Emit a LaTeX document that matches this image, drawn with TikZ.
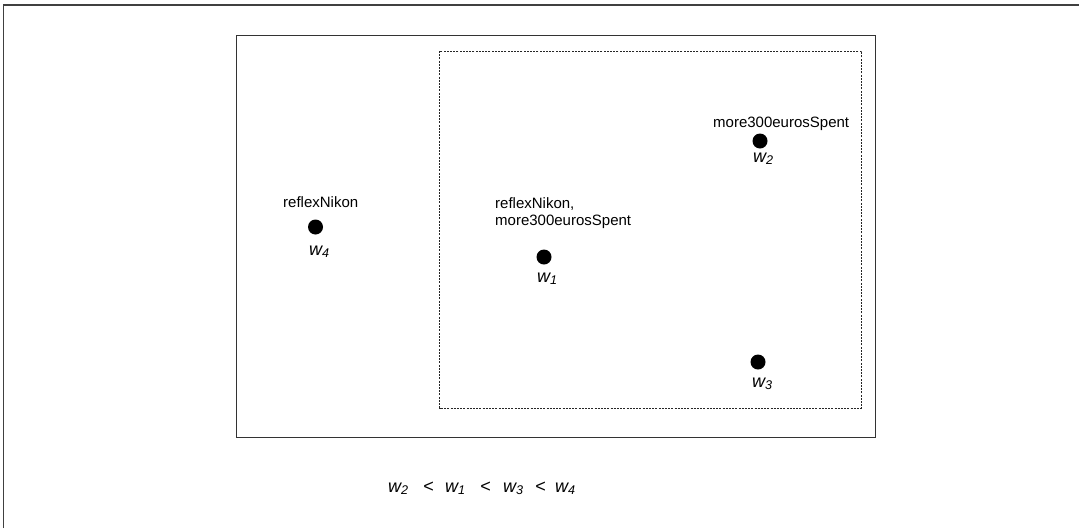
\documentclass[tikz,border=0pt]{standalone}
\usepackage{fontspec}
\setmainfont{Liberation Sans}
\newcommand{\slot}[2]{\makebox[#1pt][l]{#2}}
\begin{document}
\begin{tikzpicture}[x=1pt,y=-1pt,
  world/.style={circle,fill=black,inner sep=0pt,minimum size=15pt},
  prop/.style={font=\fontsize{15}{17}\selectfont,inner sep=0pt,align=left,anchor=base west},
  wname/.style={font=\fontsize{18}{18}\selectfont\itshape,inner sep=0pt,anchor=base west},
  frame/.style={draw=black!80,line width=1.4pt},
  cluster/.style={draw=black!85,line width=0.9pt,dash pattern=on 2pt off 1.2pt}]
\useasboundingbox (0,0) rectangle (1079,528);
% page edges
\draw[draw=black!75,line width=1.5pt] (3.5,528) -- (3.5,5) -- (1079,5);
% model frame and the cluster of worlds
\draw[frame] (236.5,35.5) rectangle (875.5,437.5);
\draw[cluster] (439.5,51) rectangle (861.5,408);
% worlds
\node[world] (w4) at (315.5,227) {};
\node[world] (w1) at (544,257) {};
\node[world] (w2) at (760,141) {};
\node[world] (w3) at (758,362) {};
% valuations
\node[prop] (p4) at (283,207) {reflexNikon};
\node[prop] (p1) at (495,225) {reflexNikon,\\more300eurosSpent};
\node[prop] (p2) at (713,127) {more300eurosSpent};
% world names
\node[wname] (n4) at (309,255) {w\textsubscript{4}};
\node[wname] (n1) at (537,282) {w\textsubscript{1}};
\node[wname] (n2) at (753,162) {w\textsubscript{2}};
\node[wname] (n3) at (752,387) {w\textsubscript{3}};
% ordering
\node[wname] (ord) at (388,492) {\slot{35}{w\textsubscript{2}}\slot{22}{\textless}\slot{35}{w\textsubscript{1}}\slot{23}{\textless}\slot{32}{w\textsubscript{3}}\slot{20}{\textless}w\textsubscript{4}};
\end{tikzpicture}
\end{document}
